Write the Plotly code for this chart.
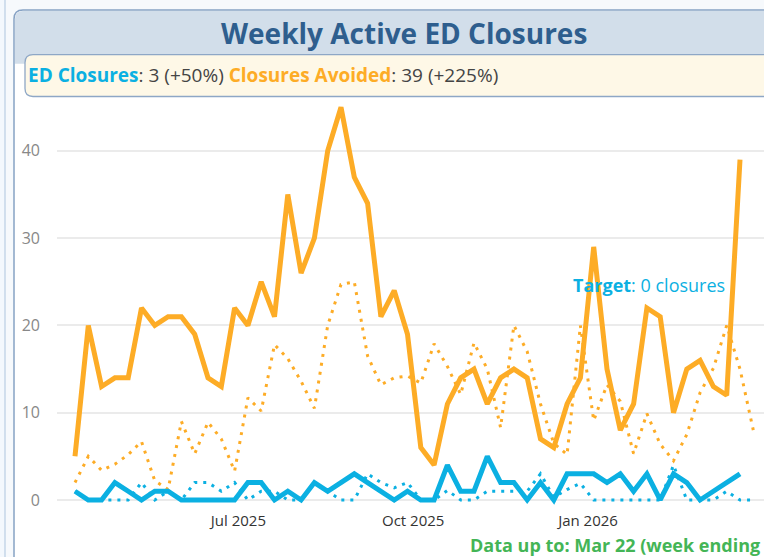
import pandas as pd
import plotly.graph_objects as go

# ---------------- data ----------------
week_start = "2025-04-06"          # first week (weekly points)
closures_avoided = [5, 20, 13, 14, 14, 22, 20, 21, 21, 19, 14, 13, 22, 20, 25, 21, 35, 26, 30, 40,
                    45, 37, 34, 21, 24, 19, 6, 4, 11, 14, 15, 11, 14, 15, 14, 7, 6, 11, 14, 29,
                    15, 8, 11, 22, 21, 10, 15, 16, 13, 12, 39]
ed_closures = [1, 0, 0, 2, 1, 0, 1, 1, 0, 0, 0, 0, 0, 2, 2, 0, 1, 0, 2, 1,
               2, 3, 2, 1, 0, 1, 0, 0, 4, 1, 1, 5, 2, 2, 0, 2, 0, 3, 3, 3,
               2, 3, 1, 3, 0, 3, 2, 0, 1, 2, 3]
avoided_prior_year = [2, 5, 3.4, 4.1, 5.2, 6.7, 2.2, 1.2, 9, 5.3, 8.9, 7, 3.3, 11.7, 10.2, 17.8, 16.2, 13.6, 10.5, 20,
                      24.7, 25, 16.5, 13.2, 14, 14.2, 13.4, 17.9, 15.3, 12.1, 18, 15, 8.3, 20, 17, 11, 6.5, 5.2, 20, 9.1,
                      13.2, 11.3, 5.3, 9.9, 6.4, 4.5, 7.5, 12.3, 15.1, 20, 15, 8]
closures_prior_year = [1, 0, 0, 0, 0, 2, 0, 1, 0, 2, 2, 1, 2, 0, 1, 1, 0, 0, 2, 1,
                       0, 0, 3, 2, 1.4, 2, 0, 0, 1.1, 0, 0, 1, 1, 1, 1, 3, 0.3, 1.2, 1.9, 0,
                       0, 0, 0, 0, 0, 4, 0, 0, 0, 1, 0, 0]
tick_dates = ["2025-07-01", "2025-10-01", "2026-01-01"]
tick_labels = ["Jul 2025", "Oct 2025", "Jan 2026"]
y_ticks = [0, 10, 20, 30, 40]

weeks = pd.date_range(week_start, periods=len(closures_avoided), freq="7D")
weeks_prior = pd.date_range(week_start, periods=len(avoided_prior_year), freq="7D")

# ---------------- styling ----------------
W, H = 764, 557
ORANGE = "#FDAC26"
BLUE = "#0BB0E2"
FONT = "Open Sans"

def px(x):
    return x / W

def py(y):
    return 1 - y / H

def rounded_rect(x0, y0, x1, y1, r):
    X0, X1 = px(x0), px(x1)
    Y0, Y1 = py(y0), py(y1)
    rx, ry = r / W, r / H
    return (f"M {X0+rx},{Y0} L {X1-rx},{Y0} Q {X1},{Y0} {X1},{Y0-ry} "
            f"L {X1},{Y1+ry} Q {X1},{Y1} {X1-rx},{Y1} L {X0+rx},{Y1} "
            f"Q {X0},{Y1} {X0},{Y1+ry} L {X0},{Y0-ry} Q {X0},{Y0} {X0+rx},{Y0} Z")

def top_rounded(x0, y0, x1, y1, r):
    X0, X1 = px(x0), px(x1)
    Y0, Y1 = py(y0), py(y1)
    rx, ry = r / W, r / H
    return (f"M {X0+rx},{Y0} L {X1},{Y0} L {X1},{Y1} L {X0},{Y1} "
            f"L {X0},{Y0-ry} Q {X0},{Y0} {X0+rx},{Y0} Z")

fig = go.Figure()
fig.add_trace(go.Scatter(x=weeks_prior, y=avoided_prior_year, mode="lines",
                         line=dict(color=ORANGE, width=3, dash="3px,6px"), hoverinfo="skip"))
fig.add_trace(go.Scatter(x=weeks_prior, y=closures_prior_year, mode="lines",
                         line=dict(color=BLUE, width=3, dash="3px,6px"), hoverinfo="skip"))
fig.add_trace(go.Scatter(x=weeks, y=closures_avoided, mode="lines",
                         line=dict(color=ORANGE, width=5)))
fig.add_trace(go.Scatter(x=weeks, y=ed_closures, mode="lines",
                         line=dict(color=BLUE, width=5)))

px_per_day = 13.3 / 7
x_start = pd.Timestamp(week_start) - pd.Timedelta(days=(75 - 57) / px_per_day)
x_end = x_start + pd.Timedelta(days=(764 - 57) / px_per_day)

shapes = [
    # previous panel edge
    dict(type="rect", xref="paper", yref="paper", x0=px(-10), x1=px(5), y0=py(600), y1=py(-10),
         fillcolor="#f3f8fd", line=dict(color="#b9cde3", width=1.2), layer="below"),
    # panel
    dict(type="path", xref="paper", yref="paper", path=rounded_rect(14, 10, 800, 620, 9),
         fillcolor="white", line=dict(color="#86a2c4", width=1.5), layer="below"),
    # title bar
    dict(type="path", xref="paper", yref="paper", path=top_rounded(15, 11, 800, 64, 8),
         fillcolor="#d2deea", line=dict(width=0), layer="below"),
    # legend box
    dict(type="path", xref="paper", yref="paper", path=rounded_rect(25, 55, 820, 97, 8),
         fillcolor="#fef8e7", line=dict(color="#8ea7c6", width=1.3), layer="below"),
]

annotations = [
    dict(text="<b>Weekly Active ED Closures</b>", xref="paper", yref="paper",
         x=px(404), y=py(33), xanchor="center", yanchor="middle", showarrow=False,
         font=dict(family=FONT, size=28, color="#2E5E8E")),
    dict(text=(f"<b><span style='color:{BLUE}'>ED Closures</span></b>: 3 (+50%) "
               f"<b><span style='color:{ORANGE}'>Closures Avoided</span></b>: 39 (+225%)"),
         xref="paper", yref="paper", x=px(26), y=py(75), xanchor="left", yanchor="middle",
         showarrow=False, font=dict(family=FONT, size=19, color="#444444")),
    dict(text="<b>Target</b>: 0 closures", xref="paper", yref="paper",
         x=px(571), y=py(287), xanchor="left", yanchor="middle", showarrow=False,
         font=dict(family=FONT, size=18, color=BLUE)),
    dict(text="<b>Data up to: Mar 22 (week ending</b>", xref="paper", yref="paper",
         x=px(468), y=py(548), xanchor="left", yanchor="middle", showarrow=False,
         font=dict(family=FONT, size=18, color="#44B556")),
]

fig.update_layout(
    width=W, height=H,
    margin=dict(l=0, r=0, t=0, b=0),
    paper_bgcolor="#f6f9fc",
    plot_bgcolor="white",
    showlegend=False,
    shapes=shapes,
    annotations=annotations,
    xaxis=dict(domain=[px(57), 1], range=[x_start.strftime("%Y-%m-%d %H:%M:%S"),
                                          x_end.strftime("%Y-%m-%d %H:%M:%S")],
               tickvals=tick_dates, ticktext=tick_labels, showgrid=False, zeroline=False,
               showline=False, ticklabelstandoff=3,
               tickfont=dict(family=FONT, size=15, color="#333333")),
    yaxis=dict(domain=[py(510), py(100)],
               range=[-(510 - 502.7) / 8.775, (502.7 - 100) / 8.775],
               tickvals=y_ticks, showgrid=True, gridcolor="#ebebeb", gridwidth=2,
               zeroline=True, zerolinecolor="#ebebeb", zerolinewidth=2, showline=False,
               ticklabelstandoff=16,
               tickfont=dict(family=FONT, size=16, color="#888888")),
)

fig.write_html("out.html", config={"displayModeBar": False},
               post_script="document.body.style.margin='0';document.body.style.overflow='hidden';")
